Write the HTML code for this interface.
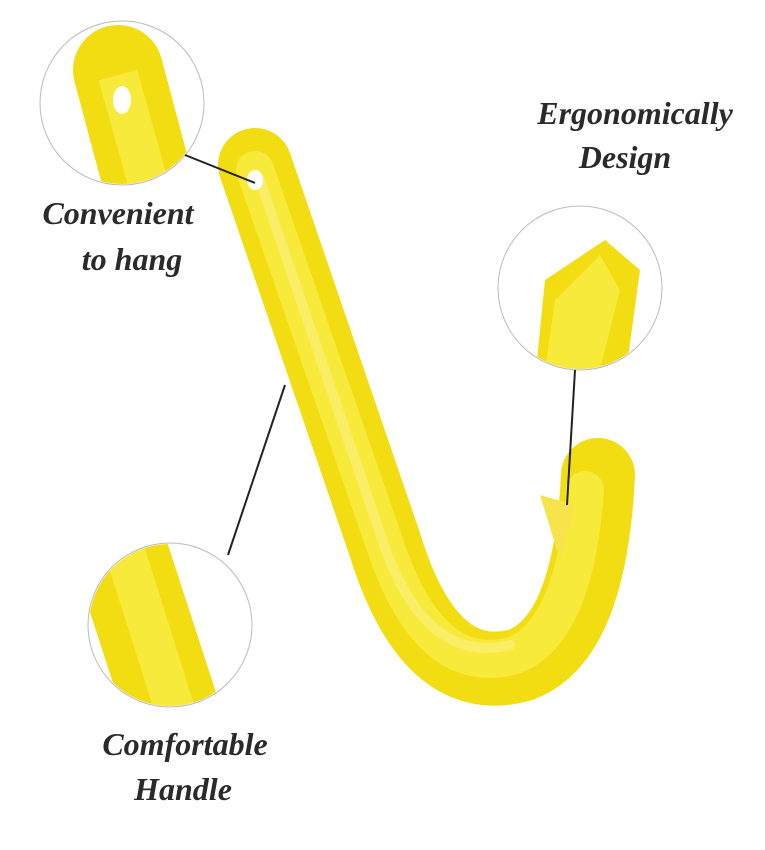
<!DOCTYPE html>
<html><head><meta charset="utf-8"><style>
body{margin:0;background:#fff}
svg{display:block}
text{font-family:"Liberation Serif",serif;font-style:italic;font-weight:bold;fill:#2a2a2a;font-size:32px}
</style></head><body>
<svg width="765" height="850" viewBox="0 0 765 850">
<g>
<path d="M255,165 L385,545 Q430,690 520,665 Q590,640 598,475" fill="none" stroke="#f2dc12" stroke-width="74" stroke-linecap="round"/>
<path d="M255,170 L385,545 Q430,680 515,655 Q575,630 585,490" fill="none" stroke="#f8ea3a" stroke-width="38" stroke-linecap="round"/>
<path d="M260,180 L385,548 Q428,665 510,645" fill="none" stroke="#fbf07a" stroke-width="10" stroke-linecap="round" opacity="0.7"/>
<path d="M540,495 L575,505 L560,560 Z" fill="#f6e44a"/>
<ellipse cx="255" cy="180" rx="8" ry="10" fill="#fff"/>
</g>
<g>
<circle cx="122" cy="103" r="82" fill="#fff" stroke="#bbb" stroke-width="1"/>
<clipPath id="c1"><circle cx="122" cy="103" r="81"/></clipPath>
<g clip-path="url(#c1)"><path d="M118,70 L150,190" stroke="#f2dc12" stroke-width="90" stroke-linecap="round"/><path d="M118,75 L150,190" stroke="#f8ea3a" stroke-width="40"/><ellipse cx="122" cy="100" rx="9" ry="14" fill="#fff"/></g>
</g>
<g>
<circle cx="580" cy="288" r="82" fill="#fff" stroke="#bbb" stroke-width="1"/>
<clipPath id="c2"><circle cx="580" cy="288" r="81"/></clipPath>
<g clip-path="url(#c2)"><path d="M545,280 L605,240 L640,270 L625,380 L535,380 Z" fill="#f2dc12"/><path d="M555,300 L600,255 L620,290 L600,370 L545,370Z" fill="#f8ea3a"/></g>
</g>
<g>
<circle cx="170" cy="625" r="82" fill="#fff" stroke="#bbb" stroke-width="1"/>
<clipPath id="c3"><circle cx="170" cy="625" r="81"/></clipPath>
<g clip-path="url(#c3)"><path d="M110,520 L175,720" stroke="#f2dc12" stroke-width="95"/><path d="M115,520 L178,720" stroke="#f8ea3a" stroke-width="40"/></g>
</g>
<g stroke="#222" stroke-width="2">
<line x1="185" y1="155" x2="255" y2="183"/>
<line x1="575" y1="370" x2="567" y2="505"/>
<line x1="285" y1="385" x2="228" y2="555"/>
</g>
<text x="635" y="124" text-anchor="middle">Ergonomically</text>
<text x="625" y="168" text-anchor="middle">Design</text>
<text x="118" y="224" text-anchor="middle">Convenient</text>
<text x="132" y="270" text-anchor="middle">to hang</text>
<text x="185" y="755" text-anchor="middle">Comfortable</text>
<text x="183" y="800" text-anchor="middle">Handle</text>
</svg>
</body></html>
